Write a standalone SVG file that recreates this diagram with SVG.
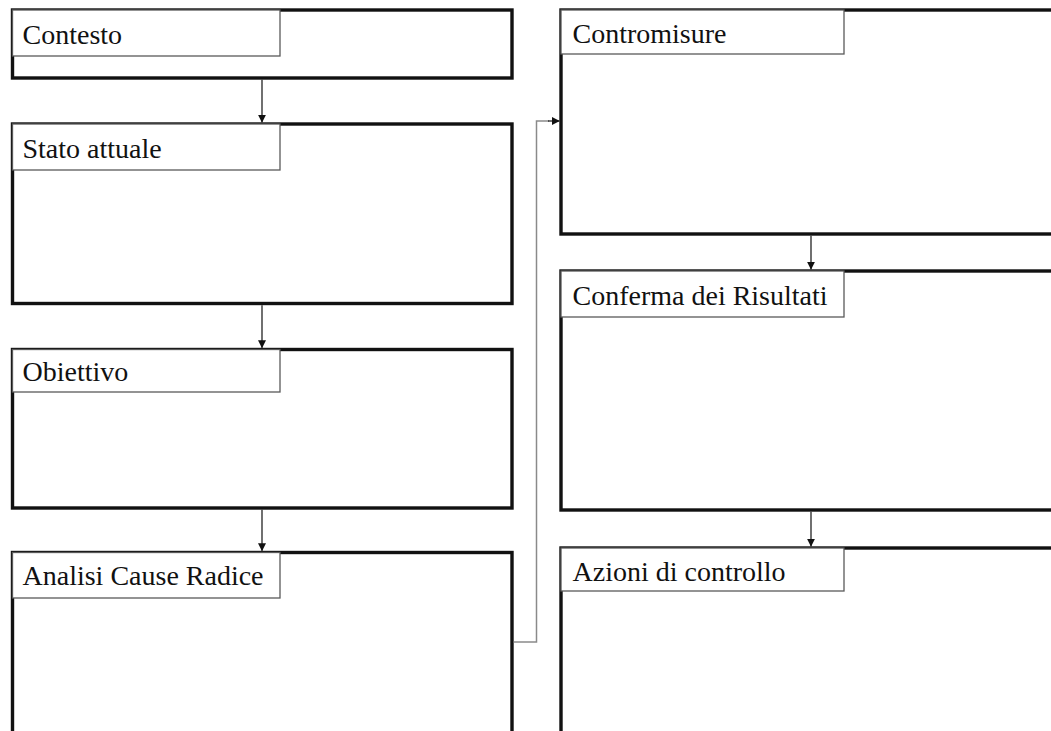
<svg xmlns="http://www.w3.org/2000/svg" width="1051" height="731" viewBox="0 0 1051 731">
  <style>
    .frame { fill: none; stroke: #111; stroke-width: 3.4; }
    .tab { fill: #fff; stroke: #5a5a5a; stroke-width: 1.3; }
    .lbl { font-family: "Liberation Serif", "Times New Roman", serif; font-size: 28px; fill: #111; }
    .flow { fill: none; stroke: #111; stroke-width: 1.2; }
    .link { fill: none; stroke: #8a8a8a; stroke-width: 1.5; }
  </style>
  <defs>
    <marker id="tip" markerWidth="8" markerHeight="8" refX="7.5" refY="4" orient="auto" markerUnits="userSpaceOnUse">
      <path d="M0,0 L8,4 L0,8 Z" fill="#111"/>
    </marker>
  </defs>
  <rect width="1051" height="731" fill="#fff"/>

  <!-- left column -->
  <g id="contesto">
    <rect class="frame" x="12.5" y="10" width="499.5" height="68"/>
    <rect class="tab" x="12.5" y="10" width="267.5" height="46"/>
    <text class="lbl" x="22.5" y="44">Contesto</text>
  </g>
  <g id="stato-attuale">
    <rect class="frame" x="12.5" y="124" width="499.5" height="179.5"/>
    <rect class="tab" x="12.5" y="124" width="267.5" height="46"/>
    <text class="lbl" x="22.5" y="158">Stato attuale</text>
  </g>
  <g id="obiettivo">
    <rect class="frame" x="12.5" y="349.5" width="499.5" height="158.5"/>
    <rect class="tab" x="12.5" y="349.5" width="267.5" height="42.5"/>
    <text class="lbl" x="22.5" y="381">Obiettivo</text>
  </g>
  <g id="analisi-cause-radice">
    <rect class="frame" x="12.5" y="552.5" width="499.5" height="200"/>
    <rect class="tab" x="12.5" y="552.5" width="267.5" height="45.5"/>
    <text class="lbl" x="22.5" y="585">Analisi Cause Radice</text>
  </g>

  <!-- right column -->
  <g id="contromisure">
    <rect class="frame" x="561" y="10" width="510" height="224"/>
    <rect class="tab" x="561" y="10" width="283" height="44"/>
    <text class="lbl" x="572.5" y="42.5">Contromisure</text>
  </g>
  <g id="conferma-risultati">
    <rect class="frame" x="561" y="271" width="510" height="239"/>
    <rect class="tab" x="561" y="271" width="283" height="46"/>
    <text class="lbl" x="572.5" y="305">Conferma dei Risultati</text>
  </g>
  <g id="azioni-controllo">
    <rect class="frame" x="561" y="548" width="510" height="200"/>
    <rect class="tab" x="561" y="548" width="283" height="43"/>
    <text class="lbl" x="572.5" y="581">Azioni di controllo</text>
  </g>

  <g id="connectors">
    <line class="flow" x1="262" y1="79.7" x2="262" y2="122.3" marker-end="url(#tip)"/>
    <line class="flow" x1="262" y1="305.2" x2="262" y2="347.8" marker-end="url(#tip)"/>
    <line class="flow" x1="262" y1="509.7" x2="262" y2="550.8" marker-end="url(#tip)"/>
    <line class="flow" x1="811" y1="235.7" x2="811" y2="269.3" marker-end="url(#tip)"/>
    <line class="flow" x1="811" y1="511.7" x2="811" y2="546.3" marker-end="url(#tip)"/>
    <path class="link" d="M513.7,642 H536.5 V121 H549"/>
    <line class="flow" x1="548" y1="121" x2="559.3" y2="121" marker-end="url(#tip)"/>
  </g>
</svg>
